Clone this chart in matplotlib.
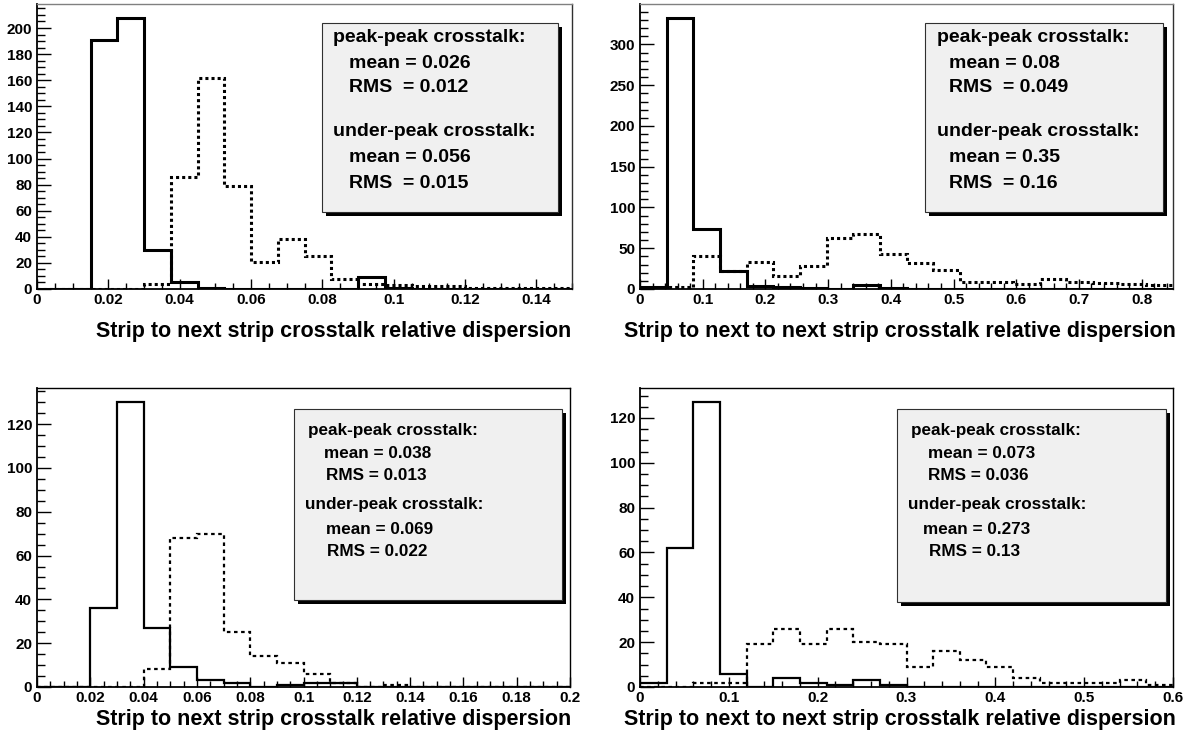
import numpy as np
import matplotlib
matplotlib.use("Agg")
import matplotlib.pyplot as plt
from matplotlib.patches import Rectangle
from matplotlib.ticker import MultipleLocator

plt.rcParams['font.family'] = ['Liberation Sans', 'DejaVu Sans']
plt.rcParams['font.weight'] = 'bold'

W, H = 1195, 736

# ---- data: 20-bin histograms per panel ----
# top-left: strip to next strip (x 0..0.15)
tl_range = (0.0, 0.15)
tl_peak = [0, 0, 191, 208, 30, 5, 1, 0, 0, 0, 0, 0, 9, 1, 0, 0, 0, 0, 0, 0]
tl_under = [0, 0, 0, 0, 4, 86, 162, 79, 21, 38, 25, 8, 4, 3, 2, 2, 1, 1, 1, 1]

# top-right: strip to next to next strip (x 0..0.85)
tr_range = (0.0, 0.85)
tr_peak = [2, 333, 74, 22, 4, 2, 1, 0, 5, 1, 0, 0, 0, 0, 0, 0, 0, 0, 0, 0]
tr_under = [0, 2, 40, 22, 33, 16, 28, 63, 67, 43, 32, 23, 9, 8, 6, 12, 8, 7, 6, 5]

# bottom-left: strip to next strip (x 0..0.2)
bl_range = (0.0, 0.2)
bl_peak = [0, 0, 36, 130, 27, 9, 3, 2, 0, 1, 2, 2, 0, 0, 0, 0, 0, 0, 0, 0]
bl_under = [0, 0, 0, 0, 8, 68, 70, 25, 14, 11, 6, 2, 0, 1, 0, 0, 0, 0, 0, 0]

# bottom-right: strip to next to next strip (x 0..0.6)
br_range = (0.0, 0.6)
br_peak = [2, 62, 127, 6, 0, 4, 2, 1, 3, 1, 0, 0, 0, 0, 0, 0, 0, 0, 0, 0]
br_under = [0, 0, 2, 2, 19, 26, 19, 26, 20, 19, 9, 16, 12, 9, 4, 2, 2, 2, 3, 1]

xtitle_next = "Strip to next strip crosstalk relative dispersion"
xtitle_next2 = "Strip to next to next strip crosstalk relative dispersion"

tl_stats = ["peak-peak crosstalk:", "mean = 0.026", "RMS  = 0.012",
            "under-peak crosstalk:", "mean = 0.056", "RMS  = 0.015"]
tr_stats = ["peak-peak crosstalk:", "mean = 0.08", "RMS  = 0.049",
            "under-peak crosstalk:", "mean = 0.35", "RMS  = 0.16"]
bl_stats = ["peak-peak crosstalk:", "mean = 0.038", "RMS = 0.013",
            "under-peak crosstalk:", "mean = 0.069", "RMS = 0.022"]
br_stats = ["peak-peak crosstalk:", "mean = 0.073", "RMS = 0.036",
            "under-peak crosstalk:", "mean = 0.273", "RMS = 0.13"]

fig = plt.figure(figsize=(W / 100, H / 100), dpi=100)
fig.patch.set_facecolor('white')


def px_axes(l, t, r, b):
    return fig.add_axes([l / W, 1 - b / H, (r - l) / W, (b - t) / H])


def panel(box, rng, peak, under, ymaj, ymin, xmaj, xmin, xfmt, lw, dots,
          top_color, right_color):
    ax = px_axes(*box)
    edges = np.linspace(rng[0], rng[1], len(peak) + 1)
    ax.stairs(under, edges, color='black', lw=lw, linestyle=(0, dots),
              baseline=None)
    ax.stairs(peak, edges, color='black', lw=lw, baseline=None)
    ax.set_xlim(*rng)
    ax.set_ylim(0, 1.05 * max(max(peak), max(under)))
    ax.yaxis.set_major_locator(MultipleLocator(ymaj))
    ax.yaxis.set_minor_locator(MultipleLocator(ymin))
    ax.xaxis.set_major_locator(MultipleLocator(xmaj))
    ax.xaxis.set_minor_locator(MultipleLocator(xmin))
    ax.xaxis.set_major_formatter(
        matplotlib.ticker.FuncFormatter(
            lambda v, p: '0' if abs(v) < 1e-9 else (xfmt % v).rstrip('0')))
    ax.tick_params(axis='both', which='both', direction='in',
                   top=False, right=False, labelsize=11, width=1)
    ax.tick_params(axis='y', which='major', length=10, pad=3.5)
    ax.tick_params(axis='y', which='minor', length=5.5)
    ax.tick_params(axis='x', which='major', length=7, pad=3)
    ax.tick_params(axis='x', which='minor', length=4)
    for lab in ax.get_xticklabels() + ax.get_yticklabels():
        lab.set_fontweight('bold')
    ax.spines['left'].set_linewidth(1.3)
    ax.spines['bottom'].set_linewidth(1.3)
    ax.spines['top'].set_color(top_color)
    ax.spines['right'].set_color(right_color)
    ax.spines['top'].set_linewidth(1.0)
    ax.spines['right'].set_linewidth(1.0)
    return ax


def stats_box(x0, y0, x1, y1, lines, positions, size):
    sh = 4
    fig.add_artist(Rectangle(((x0 + sh) / W, 1 - (y1 + sh) / H),
                             (x1 - x0) / W, (y1 - y0) / H,
                             transform=fig.transFigure, facecolor='black',
                             edgecolor='black', lw=0))
    fig.add_artist(Rectangle((x0 / W, 1 - y1 / H), (x1 - x0) / W, (y1 - y0) / H,
                             transform=fig.transFigure, facecolor='#f0f0f0',
                             edgecolor='#303030', lw=0.8))
    for txt, (tx, ty) in zip(lines, positions):
        fig.text(tx / W, 1 - ty / H, txt, ha='left', va='center',
                 fontsize=size, fontweight='bold', color='black')


ax1 = panel((37, 4, 572, 289), tl_range, tl_peak, tl_under, 20, 5, 0.02, 0.005,
            '%.2f', 2.2, (1.0, 1.0), '#808080', '#303030')
ax2 = panel((640, 4, 1173, 289), tr_range, tr_peak, tr_under, 50, 10, 0.1, 0.02,
            '%.1f', 2.2, (1.0, 1.0), '#808080', '#303030')
ax3 = panel((37, 388, 570, 687), bl_range, bl_peak, bl_under, 20, 5, 0.02, 0.005,
            '%.2f', 1.6, (1.6, 1.6), 'black', 'black')
ax4 = panel((640, 388, 1173, 687), br_range, br_peak, br_under, 20, 5, 0.1, 0.02,
            '%.1f', 1.6, (1.6, 1.6), 'black', 'black')

# axis titles, right-aligned with the frame
fig.text(571 / W, 1 - 331 / H, xtitle_next, ha='right', va='center',
         fontsize=15.5, fontweight='bold')
fig.text(1176 / W, 1 - 331 / H, xtitle_next2, ha='right', va='center',
         fontsize=15.5, fontweight='bold')
fig.text(571 / W, 1 - 720 / H, xtitle_next, ha='right', va='center',
         fontsize=15.5, fontweight='bold')
fig.text(1176 / W, 1 - 720 / H, xtitle_next2, ha='right', va='center',
         fontsize=15.5, fontweight='bold')

top_ys = [37, 64, 88, 132, 158, 183]
stats_box(322, 23, 558, 212, tl_stats,
          list(zip([333, 349, 349, 333, 349, 349], top_ys)), 14)
stats_box(925, 23, 1163, 212, tr_stats,
          list(zip([937, 949, 949, 937, 949, 949], top_ys)), 14)
bot_ys = [430, 454, 476, 505, 529, 552]
stats_box(294, 409, 562, 600, bl_stats,
          list(zip([308, 324, 326, 305, 326, 327], bot_ys)), 12.3)
stats_box(897, 409, 1166, 602, br_stats,
          list(zip([911, 928, 928, 908, 923, 929], bot_ys)), 12.3)

fig.savefig('out.png', dpi=100, facecolor='white')
